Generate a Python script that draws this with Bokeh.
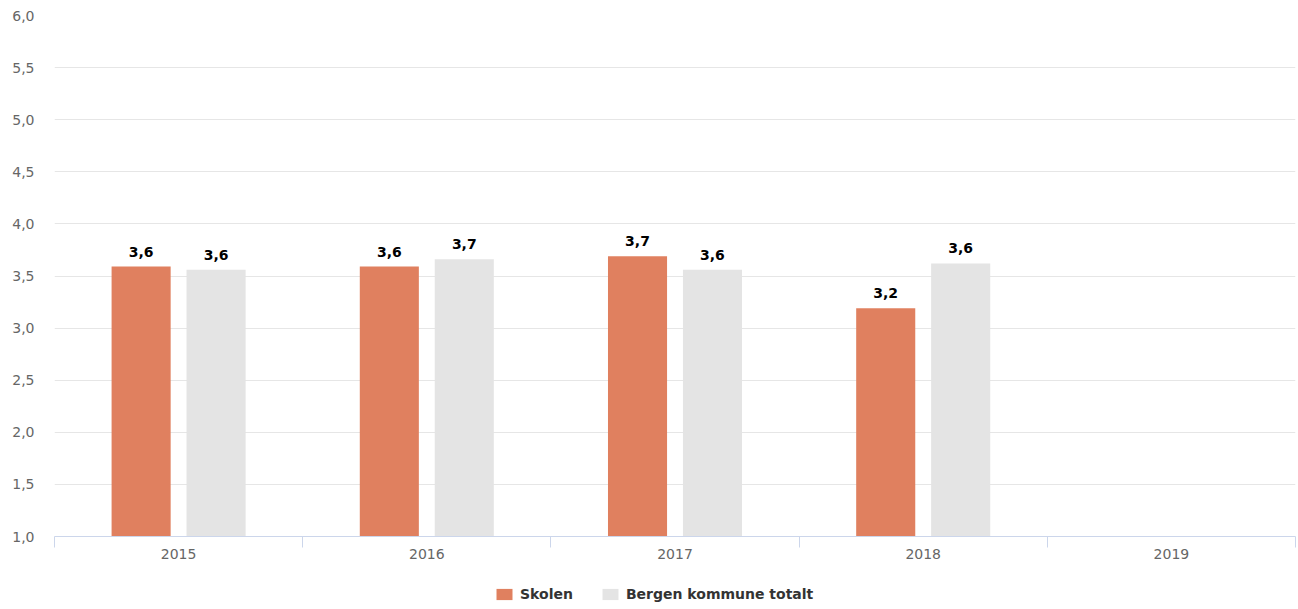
from bokeh.plotting import figure
from bokeh.models import (FixedTicker, ColumnDataSource, Legend, LegendItem,
                          Range1d, LabelSet)
from bokeh.layouts import column
from bokeh.core.properties import value
from bokeh.embed import file_html
from bokeh.resources import INLINE
from bokeh.transform import dodge

# ---- data ----
years = ["2015", "2016", "2017", "2018", "2019"]
data_years = ["2015", "2016", "2017", "2018"]
skolen = [3.59, 3.59, 3.69, 3.19]
bergen = [3.56, 3.66, 3.56, 3.62]
y_ticks = [1.0, 1.5, 2.0, 2.5, 3.0, 3.5, 4.0, 4.5, 5.0, 5.5, 6.0]
series_names = ["Skolen", "Bergen kommune totalt"]

FONT = "DejaVu Sans"
ORANGE = "#E0805F"
GREY = "#E4E4E4"

def fmt(v):
    return f"{v:.1f}".replace(".", ",")

xpos = [years.index(y) + 0.5 for y in data_years]
src = ColumnDataSource(dict(
    x=xpos, skolen=skolen, bergen=bergen,
    skolen_lbl=[fmt(v) for v in skolen],
    bergen_lbl=[fmt(v) for v in bergen],
))

p = figure(frame_width=1241, frame_height=521,
           x_range=Range1d(0, len(years)), y_range=Range1d(y_ticks[0], y_ticks[-1]),
           output_backend="svg", toolbar_location=None,
           min_border_left=54, min_border_right=1, min_border_top=15,
           min_border_bottom=29, outline_line_color=None)

off = 0.151
bw = 0.238
p.vbar(x=dodge("x", -off, range=p.x_range), top="skolen", bottom=y_ticks[0],
       width=bw, source=src, fill_color=ORANGE, line_color=None)
p.vbar(x=dodge("x", off, range=p.x_range), top="bergen", bottom=y_ticks[0],
       width=bw, source=src, fill_color=GREY, line_color=None)

for col, lbl, o in (("skolen", "skolen_lbl", -off), ("bergen", "bergen_lbl", off)):
    ls = LabelSet(x=dodge("x", o, range=p.x_range), y=col, text=lbl, source=src,
                  text_align="center", text_baseline="alphabetic", y_offset=10,
                  text_font=value(FONT), text_font_size="14px",
                  text_font_style="bold", text_color="#000000")
    p.add_layout(ls)

# y axis
p.yaxis.ticker = FixedTicker(ticks=y_ticks)
p.yaxis.major_label_overrides = {t: fmt(t) for t in y_ticks}
p.yaxis.axis_line_color = None
p.yaxis.major_tick_line_color = None
p.yaxis.minor_tick_line_color = None
p.yaxis.major_label_standoff = 14
p.yaxis.major_label_text_font = FONT
p.yaxis.major_label_text_font_size = "14px"
p.yaxis.major_label_text_color = "#666666"

p.ygrid.ticker = FixedTicker(ticks=y_ticks)
p.ygrid.grid_line_color = "#E6E6E6"
p.xgrid.grid_line_color = None

# x axis
centers = [i + 0.5 for i in range(len(years))]
bounds = [float(i) for i in range(len(years) + 1)]
p.xaxis.ticker = FixedTicker(ticks=centers, minor_ticks=bounds)
p.xaxis.major_label_overrides = {c: y for c, y in zip(centers, years)}
p.xaxis.axis_line_color = "#CCD6EB"
p.xaxis.major_tick_line_color = None
p.xaxis.major_tick_out = 0
p.xaxis.major_tick_in = 0
p.xaxis.minor_tick_line_color = "#CCD6EB"
p.xaxis.minor_tick_out = 11
p.xaxis.minor_tick_in = 0
p.xaxis.major_label_standoff = 1
p.xaxis.major_label_text_font = FONT
p.xaxis.major_label_text_font_size = "14px"
p.xaxis.major_label_text_color = "#666666"

# legend strip below the chart (swatch renderers lie outside the strip's ranges)
p2 = figure(width=1296, height=43, output_backend="svg", toolbar_location=None,
            x_range=Range1d(0, 1), y_range=Range1d(0, 1),
            min_border=0, outline_line_color=None)
p2.axis.visible = False
p2.grid.visible = False
l1 = p2.vbar(x=[-5], top=[-5], bottom=[-5], width=0.1, fill_color=ORANGE, line_color=None)
l2 = p2.vbar(x=[-5], top=[-5], bottom=[-5], width=0.1, fill_color=GREY, line_color=None)
legend = Legend(items=[LegendItem(label=series_names[0], renderers=[l1]),
                       LegendItem(label=series_names[1], renderers=[l2])],
                orientation="horizontal", location=(440, 6),
                glyph_width=20, glyph_height=14, label_height=14,
                label_standoff=6, spacing=27, padding=0, margin=0,
                border_line_color=None, background_fill_alpha=0,
                label_text_font=FONT, label_text_font_size="14px",
                label_text_font_style="bold", label_text_color="#333333")
p2.add_layout(legend, "center")

layout = column(p, p2, spacing=0)
open("out.html", "w").write(file_html(layout, INLINE))
